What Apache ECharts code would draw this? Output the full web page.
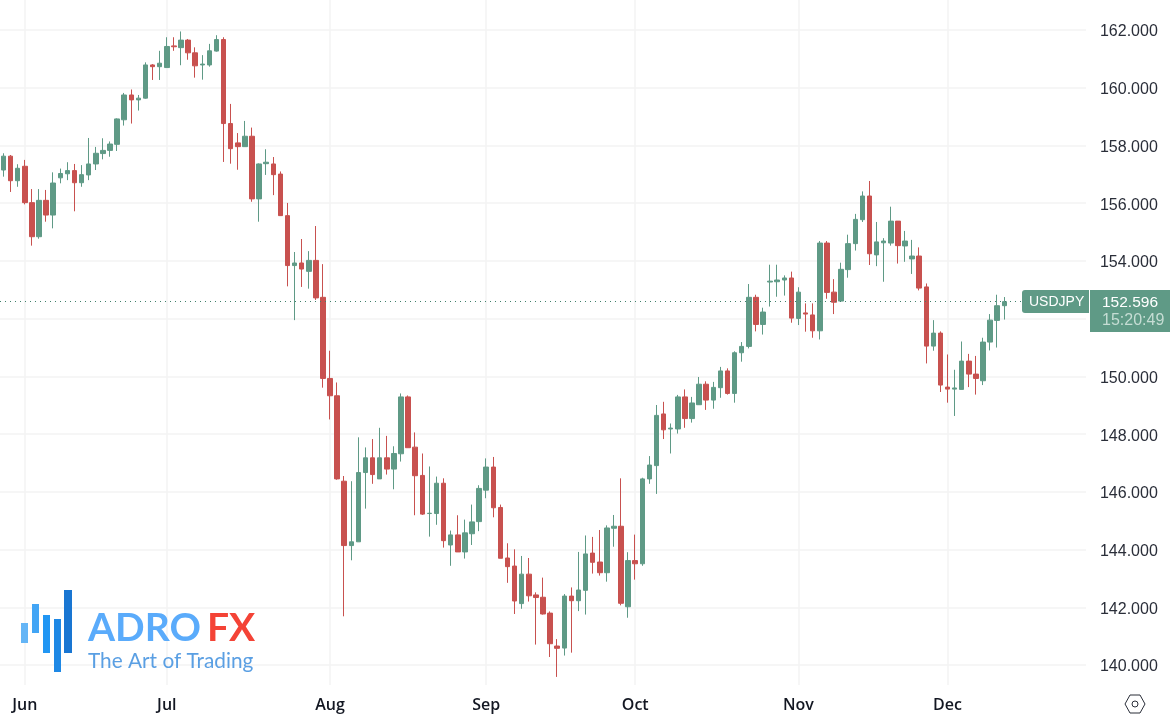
<!DOCTYPE html>
<html>
<head>
<meta charset="utf-8">
<title>USDJPY</title>
<script src="https://cdn.jsdelivr.net/npm/echarts@6/dist/echarts.min.js"></script>
<style>
  html, body { margin: 0; padding: 0; background: #fff; }
  #chart { width: 1172px; height: 722px; }
</style>
</head>
<body>
<div id="chart"></div>
<script>
// daily USDJPY candles
const opens = [
  157.15, 157.63, 156.78, 157.28, 156.02, 154.84, 156.10, 155.59, 156.88, 157.02,
  157.13, 156.71, 156.98, 157.36, 157.72, 157.83, 158.04, 158.89, 159.75, 159.58,
  159.64, 160.79, 160.73, 160.70, 161.45, 161.39, 161.65, 161.21, 160.79, 160.79,
  161.27, 161.67, 158.76, 158.09, 157.96, 158.32, 156.15, 157.37, 157.36, 157.01,
  155.57, 153.84, 153.93, 153.64, 154.02, 152.74, 149.93, 149.33, 146.37, 144.14,
  144.27, 146.67, 147.18, 146.45, 147.18, 146.79, 147.32, 149.29, 147.55, 146.57,
  145.25, 145.25, 146.30, 144.16, 144.51, 143.92, 144.55, 144.97, 146.06, 146.86,
  145.46, 143.71, 143.43, 142.13, 143.15, 142.43, 142.35, 141.80, 140.66, 140.59,
  142.39, 142.23, 142.59, 143.88, 143.57, 143.20, 144.74, 144.81, 142.02, 143.62,
  143.51, 146.45, 146.91, 148.70, 148.18, 148.18, 149.29, 148.54, 149.02, 149.73,
  149.18, 149.61, 150.19, 149.41, 150.82, 151.04, 152.74, 151.80, 153.27, 153.28,
  153.34, 153.41, 152.01, 152.20, 152.13, 151.58, 154.62, 152.92, 152.61, 153.70,
  154.60, 155.43, 156.25, 154.21, 154.63, 154.62, 155.38, 154.52, 154.07, 154.17,
  153.10, 151.05, 151.50, 149.63, 149.56, 149.55, 150.53, 150.08, 149.85, 151.19,
  151.94, 152.45
];
const closes = [
  157.63, 156.78, 157.21, 156.02, 154.84, 156.10, 155.59, 156.70, 157.03, 157.13,
  156.71, 156.99, 157.36, 157.73, 157.83, 158.05, 158.92, 159.75, 159.58, 159.64,
  160.79, 160.73, 160.85, 161.43, 161.42, 161.65, 161.21, 160.76, 160.82, 161.28,
  161.67, 158.76, 157.89, 157.96, 158.32, 156.15, 157.36, 157.42, 156.99, 155.57,
  153.84, 153.93, 153.72, 154.02, 152.72, 149.93, 149.33, 146.45, 144.14, 144.27,
  146.67, 147.18, 146.60, 147.18, 146.79, 147.33, 149.29, 147.53, 146.56, 145.23,
  145.26, 146.30, 144.31, 144.51, 143.92, 144.58, 144.96, 146.12, 146.86, 145.45,
  143.70, 143.41, 142.22, 143.15, 142.40, 142.34, 141.77, 140.74, 140.58, 142.39,
  142.23, 142.60, 143.85, 143.56, 143.20, 144.75, 144.81, 142.14, 143.62, 143.51,
  146.45, 146.93, 148.65, 148.15, 148.21, 149.29, 148.54, 149.08, 149.73, 149.18,
  149.62, 150.19, 149.41, 150.82, 151.04, 152.74, 151.80, 152.23, 153.30, 153.34,
  153.41, 152.02, 152.92, 152.16, 151.58, 154.62, 152.91, 152.57, 153.71, 154.60,
  155.44, 156.25, 154.25, 154.66, 154.69, 155.38, 154.53, 154.69, 154.17, 153.06,
  151.05, 151.50, 149.70, 149.56, 149.60, 150.53, 150.08, 149.93, 151.19, 151.95,
  152.45, 152.59
];
const lows = [
  156.92, 156.39, 156.57, 155.96, 154.53, 154.77, 155.36, 155.13, 156.69, 156.80,
  155.72, 156.57, 156.80, 157.15, 157.52, 157.61, 157.81, 158.69, 158.76, 159.21,
  159.62, 160.27, 160.27, 160.70, 161.28, 160.78, 160.97, 160.35, 160.28, 160.73,
  161.25, 157.43, 157.37, 157.16, 157.96, 156.05, 155.36, 156.98, 156.28, 155.57,
  153.12, 151.95, 153.10, 153.04, 152.65, 149.61, 148.51, 146.42, 141.69, 143.63,
  144.27, 145.42, 146.28, 146.45, 146.60, 146.09, 147.05, 147.53, 145.19, 145.20,
  144.45, 144.86, 144.07, 143.44, 143.92, 143.69, 144.16, 144.64, 145.78, 145.12,
  143.70, 142.85, 141.77, 141.95, 142.20, 140.71, 141.75, 140.28, 139.59, 140.33,
  140.43, 141.87, 141.75, 143.17, 143.10, 142.89, 144.10, 142.07, 141.64, 142.96,
  143.44, 146.28, 145.93, 147.83, 147.33, 148.02, 148.22, 148.40, 149.02, 148.84,
  148.88, 149.26, 149.37, 149.09, 150.51, 150.97, 151.56, 151.45, 152.42, 152.76,
  152.80, 151.86, 151.78, 151.55, 151.34, 151.28, 152.69, 152.16, 152.61, 153.42,
  154.36, 155.35, 153.86, 153.82, 153.28, 154.53, 153.91, 153.97, 153.55, 152.98,
  150.45, 150.89, 149.46, 149.09, 148.63, 149.55, 149.63, 149.37, 149.70, 150.90,
  151.00, 151.97
];
const highs = [
  157.73, 157.67, 157.35, 157.50, 156.49, 156.49, 156.46, 157.07, 157.20, 157.42,
  157.36, 157.32, 158.26, 157.95, 158.25, 158.14, 158.94, 159.82, 159.94, 159.75,
  160.88, 160.82, 161.28, 161.75, 161.75, 161.95, 161.69, 161.40, 161.13, 161.52,
  161.82, 161.75, 159.44, 158.43, 158.85, 158.62, 157.38, 157.87, 157.60, 157.10,
  156.01, 154.31, 154.76, 154.34, 155.21, 153.89, 150.89, 149.79, 146.55, 146.37,
  147.89, 147.54, 147.83, 148.22, 147.94, 147.58, 149.41, 149.34, 148.06, 147.33,
  146.88, 146.53, 146.47, 144.66, 145.19, 145.04, 145.56, 146.23, 147.16, 147.21,
  145.56, 144.22, 144.01, 143.78, 143.71, 142.52, 143.03, 141.86, 140.90, 142.46,
  142.69, 143.92, 144.49, 144.44, 144.68, 144.84, 145.20, 146.47, 143.91, 144.52,
  146.49, 147.24, 149.01, 149.12, 148.37, 149.36, 149.55, 149.29, 149.98, 149.83,
  149.81, 150.33, 150.28, 150.87, 151.19, 153.20, 152.83, 152.38, 153.87, 153.87,
  153.50, 153.63, 153.09, 152.53, 152.53, 154.69, 154.69, 153.37, 153.94, 154.91,
  155.63, 156.41, 156.77, 155.35, 154.79, 155.88, 155.38, 155.04, 154.73, 154.47,
  153.22, 151.95, 151.56, 150.76, 150.23, 151.21, 150.78, 150.71, 151.34, 152.16,
  152.83, 152.75
];

const priceTicks = [140, 142, 144, 146, 148, 150, 152, 154, 156, 158, 160, 162];
const monthNames = ['Jun', 'Jul', 'Aug', 'Sep', 'Oct', 'Nov', 'Dec'];
const monthStarts = [3, 23, 46, 68, 89, 112, 133];
const lastPrice = 152.596;

// 11 empty slots keep the room right of the last candle
const slots = opens.length + 11;
const categories = [];
for (let i = 0; i < slots; i++) {
  const m = monthStarts.indexOf(i);
  categories.push(m >= 0 ? monthNames[m] : 'd' + i);
}
const candles = opens.map((o, i) => [o, closes[i], lows[i], highs[i]]);

const isMonthStart = i => monthStarts.indexOf(i) >= 0;
const upColor = '#5f9a86';
const downColor = '#c8514f';
const gridColor = '#f3f3f3';

const myChart = echarts.init(document.getElementById('chart'));

const option = {
  animation: false,
  backgroundColor: '#fff',
  grid: { left: -0.35, top: 0, width: slots * 7.1, height: 685 },
  xAxis: {
    type: 'category',
    data: categories,
    axisLine: { show: false },
    axisTick: { show: false },
    axisLabel: {
      interval: i => isMonthStart(i),
      margin: 12,
      color: '#131722',
      fontFamily: 'Open Sans',
      fontSize: 16,
      fontWeight: 600
    },
    splitLine: {
      show: true,
      alignWithLabel: true,
      interval: i => isMonthStart(i),
      lineStyle: { color: gridColor, width: 1.5 }
    }
  },
  yAxis: {
    type: 'value',
    position: 'right',
    min: 139.31,
    max: 163.04,
    axisLine: { show: false },
    axisTick: { show: false, customValues: priceTicks },
    axisLabel: {
      customValues: priceTicks,
      // the padding only pushes the text down a little onto its grid line
      formatter: v => '{p|' + v.toFixed(3) + '}',
      rich: { p: { padding: [4, 0, 0, 0] } },
      margin: 14,
      color: '#2a2e39',
      fontFamily: 'Liberation Sans',
      fontSize: 16
    },
    splitLine: { show: true, lineStyle: { color: gridColor, width: 1.5 } }
  },
  series: [
    {
      type: 'candlestick',
      data: candles,
      barWidth: 5,
      clip: false,
      itemStyle: {
        color: upColor,
        color0: downColor,
        borderColor: upColor,
        borderColor0: downColor,
        borderWidth: 1
      },
      markLine: {
        silent: true,
        symbol: 'none',
        label: { show: false },
        lineStyle: { type: [1, 4], color: '#3f7f6b', width: 1 },
        data: [{ yAxis: lastPrice }]
      }
    }
  ],
  graphic: [
    // price tag on the right
    { type: 'rect', z: 50, shape: { x: 1022, y: 290, width: 67, height: 23, r: [3, 0, 0, 3] }, style: { fill: upColor } },
    { type: 'rect', z: 50, shape: { x: 1090, y: 290, width: 80, height: 42 }, style: { fill: upColor } },
    { type: 'text', z: 51, style: { x: 1029, y: 302.5, text: 'USDJPY', fill: '#fff', font: '14px "Liberation Sans"', textVerticalAlign: 'middle' } },
    { type: 'text', z: 51, style: { x: 1102, y: 302.5, text: lastPrice.toFixed(3), fill: '#fff', font: '15.5px "Liberation Sans"', textVerticalAlign: 'middle' } },
    { type: 'text', z: 51, style: { x: 1102, y: 321, text: '15:20:49', fill: '#c6ddd4', font: '16px "Liberation Sans"', textVerticalAlign: 'middle' } },

    // logo
    { type: 'rect', z: 40, shape: { x: 21, y: 623, width: 7, height: 20 }, style: { fill: '#64b5f6' } },
    { type: 'rect', z: 40, shape: { x: 32, y: 604, width: 7, height: 29 }, style: { fill: '#42a5f5' } },
    { type: 'rect', z: 40, shape: { x: 43, y: 615, width: 7, height: 38 }, style: { fill: '#2196f3' } },
    { type: 'rect', z: 40, shape: { x: 54, y: 619, width: 7, height: 53 }, style: { fill: '#1e88e5' } },
    { type: 'rect', z: 40, shape: { x: 64, y: 590, width: 8, height: 63 }, style: { fill: '#1976d2' } },
    { type: 'text', z: 40, style: { x: 88, y: 628, text: 'ADRO', fill: '#5aabfb', font: '700 39px Lato', textVerticalAlign: 'middle' } },
    { type: 'text', z: 40, style: { x: 207, y: 628, text: 'FX', fill: '#f44336', font: '700 39px Lato', textVerticalAlign: 'middle' } },
    { type: 'text', z: 40, style: { x: 88, y: 661, text: 'The Art of Trading', fill: '#5a9fe3', font: '400 20.8px Lato', textVerticalAlign: 'middle' } },

    // settings icon
    {
      type: 'polygon', z: 40,
      shape: { points: [[1125, 704], [1130, 695], [1140, 695], [1145, 704], [1140, 713], [1130, 713]] },
      style: { fill: 'none', stroke: '#2a2e39', lineWidth: 1 }
    },
    { type: 'circle', z: 40, shape: { cx: 1135, cy: 704, r: 3 }, style: { fill: 'none', stroke: '#2a2e39', lineWidth: 1 } }
  ]
};

myChart.setOption(option);
</script>
</body>
</html>
